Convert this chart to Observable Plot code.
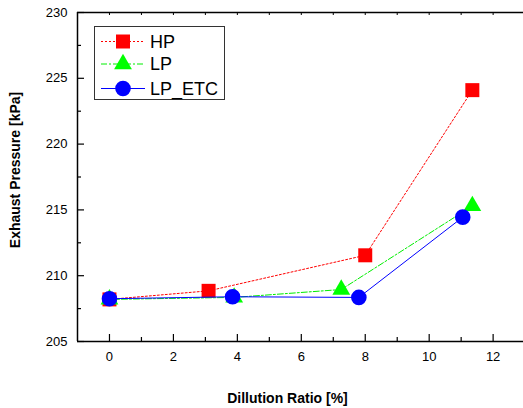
<!DOCTYPE html>
<html><head><meta charset="utf-8">
<script src="https://cdn.jsdelivr.net/npm/d3@7"></script>
<script src="https://cdn.jsdelivr.net/npm/@observablehq/plot@0.6"></script>
<style>
body{margin:0;background:#fff;}
#chart{position:relative;width:523px;height:408px;overflow:hidden;}
</style>
</head><body><div id="chart"></div>
<script>
// ---- data ----
const seriesNames = ["HP", "LP", "LP_ETC"];
const hpX = [0, 3.1, 8.0, 11.35];
const hpY = [208.2, 208.85, 211.55, 224.1];
const lpX = [0, 3.9, 7.25, 11.35];
const lpY = [208.2, 208.35, 208.95, 215.3];
const etcX = [0, 3.85, 7.8, 11.05];
const etcY = [208.25, 208.4, 208.35, 214.45];
const xTicks = [0, 2, 4, 6, 8, 10, 12];
const xMinor = [1, 3, 5, 7, 9, 11];
const topTicks = [0, 1, 2, 3, 4, 5, 6, 7, 8, 9, 10, 11, 12];
const yTicks = [205, 210, 215, 220, 225, 230];
const yMinor = [207.5, 212.5, 217.5, 222.5, 227.5];
const xLabel = "Dillution Ratio [%]";
const yLabel = "Exhaust Pressure [kPa]";

// ---- styles ----
const styles = {
  HP: {stroke: "#ff0000", dash: "2,2", symbol: "square", r: 7.9, width: 1},
  LP: {stroke: "#00ee00", dash: "6,2,2,2", symbol: "triangle", r: 6.6, width: 1},
  LP_ETC: {stroke: "#0000ff", dash: null, symbol: "circle", r: 7.8, width: 1}
};
const fillOf = {HP: "#ff0000", LP: "#00ff00", LP_ETC: "#0000ff"};

const toRows = (xs, ys, name) => xs.map((x, i) => ({x, y: ys[i], series: name}));
const rows = {
  HP: toRows(hpX, hpY, "HP"),
  LP: toRows(lpX, lpY, "LP"),
  LP_ETC: toRows(etcX, etcY, "LP_ETC")
};

const seriesMarks = seriesNames.flatMap(name => {
  const s = styles[name];
  return [
    Plot.line(rows[name], {x: "x", y: "y", stroke: s.stroke, strokeWidth: s.width, strokeDasharray: s.dash}),
    Plot.dot(rows[name], {x: "x", y: "y", symbol: () => s.symbol, r: s.r, fill: fillOf[name], stroke: "none"})
  ];
});

const noText = () => "";
const chart = Plot.plot({
  width: 523,
  height: 408,
  marginLeft: 77,
  marginRight: 0,
  marginTop: 12,
  marginBottom: 67,
  style: {fontFamily: "'Liberation Sans', Arial, sans-serif", fontSize: "13px", color: "#000", background: "#fff"},
  x: {domain: [-1, 12.95], axis: null},
  y: {domain: [205, 230], axis: null},
  symbol: {type: "identity"},
  marks: [
    ...seriesMarks,
    Plot.ruleY([205, 230], {stroke: "#000", strokeWidth: 1.5}),
    Plot.ruleX([-1], {stroke: "#000", strokeWidth: 1.5}),
    Plot.axisX({ticks: xTicks, tickSize: -7, tickFormat: noText, label: null, strokeWidth: 1.2}),
    Plot.axisX({ticks: xMinor, tickSize: -4, tickFormat: noText, label: null, strokeWidth: 1.2}),
    Plot.axisX({ticks: xTicks, tickSize: 0, tickPadding: 10, label: null, fontSize: 13}),
    Plot.axisX({anchor: "top", ticks: topTicks, tickSize: -2, tickFormat: noText, label: null}),
    Plot.axisY({ticks: yTicks, tickSize: -7, tickFormat: noText, label: null, strokeWidth: 1.2}),
    Plot.axisY({ticks: yMinor, tickSize: -4, tickFormat: noText, label: null, strokeWidth: 1.2}),
    Plot.axisY({ticks: yTicks, tickSize: 0, tickPadding: 10, label: null, fontSize: 13}),
    Plot.text([xLabel], {text: d => d, frameAnchor: "bottom", textAnchor: "middle", lineAnchor: "middle", dx: -13, dy: 57, fontWeight: "bold", fontSize: 14}),
    Plot.text([yLabel], {text: d => d, frameAnchor: "left", textAnchor: "middle", lineAnchor: "middle", rotate: -90, dx: -62, dy: -7, fontWeight: "bold", fontSize: 14})
  ]
});
document.getElementById("chart").appendChild(chart);

// ---- legend (inside the plot, top-left) ----
const svg = d3.select(chart);
const lg = svg.append("g").attr("font-family", "'Liberation Sans', Arial, sans-serif").attr("text-anchor", "start");
lg.append("rect").attr("x", 94.5).attr("y", 26.5).attr("width", 130).attr("height", 73)
  .attr("fill", "#fff").attr("stroke", "#333").attr("stroke-width", 1);
const rowY = [41.5, 64, 88.5];
seriesNames.forEach((name, i) => {
  const s = styles[name];
  const y = rowY[i];
  lg.append("line").attr("x1", 101).attr("x2", 145).attr("y1", y).attr("y2", y)
    .attr("stroke", s.stroke).attr("stroke-width", s.width).attr("stroke-dasharray", s.dash);
  const sym = s.symbol === "square" ? d3.symbolSquare : s.symbol === "triangle" ? d3.symbolTriangle : d3.symbolCircle;
  lg.append("path").attr("d", d3.symbol(sym, Math.PI * s.r * s.r)())
    .attr("transform", `translate(123,${y})`).attr("fill", fillOf[name]);
  lg.append("text").attr("x", 150).attr("y", y).attr("dy", "0.36em")
    .attr("text-anchor", "start").attr("font-size", 18).attr("fill", "#000").text(name);
});
</script>
</body></html>
